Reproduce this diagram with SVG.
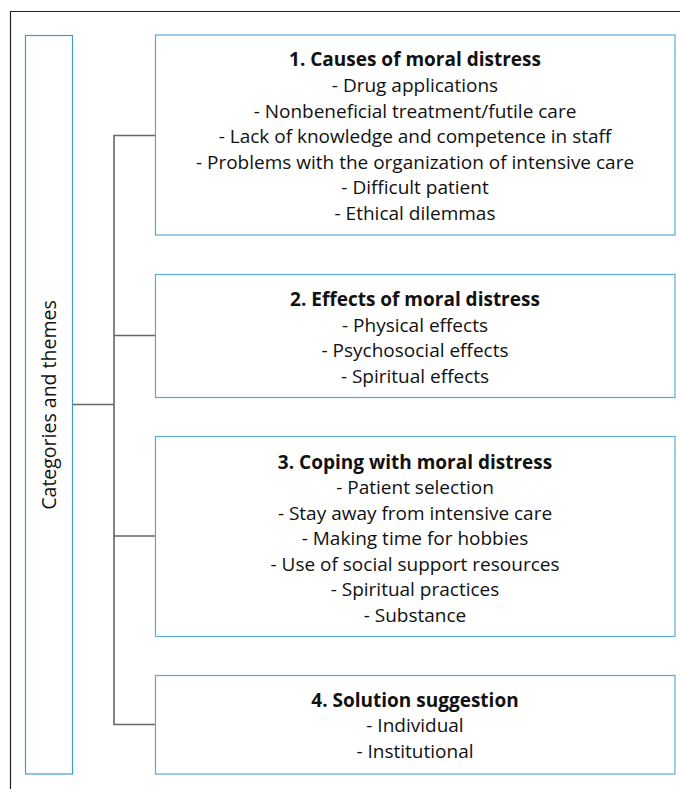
<svg xmlns="http://www.w3.org/2000/svg" width="680" height="789" viewBox="0 0 680 789">
<style>
.box{fill:#fff;stroke:#5aaad6;stroke-width:1.2}
.lbl{fill:#fff;stroke:#3f9bcf;stroke-width:1.2}
.t{font-family:"Open Sans","Liberation Sans",sans-serif;font-size:19px;fill:#111;text-anchor:middle}
.b{font-weight:bold}
.c{fill:none;stroke:#666;stroke-width:1.6}
</style>
<rect width="680" height="789" fill="#fff"/>
<path d="M10.5,789 V11.5 H680" fill="none" stroke="#222" stroke-width="1.2"/>
<g id="root">
<rect class="lbl" x="25.5" y="35.5" width="47" height="738.5"/>
<text class="t" style="font-size:19.5px" transform="translate(55.5,405) rotate(-90)">Categories and themes</text>
</g>
<g id="connectors">
<path class="c" d="M72.5,404.5 H114"/>
<path class="c" d="M155,135.5 H114 V724.5 H155"/>
<path class="c" d="M114,335.5 H155"/>
<path class="c" d="M114,536 H155"/>
</g>
<g id="n1">
<rect class="box" x="155.5" y="35" width="519.5" height="200"/>
<text class="t b" x="415" y="66">1. Causes of moral distress</text>
<text class="t" x="415" y="92">- Drug applications</text>
<text class="t" x="415" y="118">- Nonbeneficial treatment/futile care</text>
<text class="t" x="415" y="143">- Lack of knowledge and competence in staff</text>
<text class="t" x="415" y="169">- Problems with the organization of intensive care</text>
<text class="t" x="415" y="194">- Difficult patient</text>
<text class="t" x="415" y="220">- Ethical dilemmas</text>
</g>
<g id="n2">
<rect class="box" x="155.5" y="274.5" width="519.5" height="123"/>
<text class="t b" x="415" y="306">2. Effects of moral distress</text>
<text class="t" x="415" y="332">- Physical effects</text>
<text class="t" x="415" y="357">- Psychosocial effects</text>
<text class="t" x="415" y="383">- Spiritual effects</text>
</g>
<g id="n3">
<rect class="box" x="155.5" y="436.5" width="519.5" height="200"/>
<text class="t b" x="415" y="469">3. Coping with moral distress</text>
<text class="t" x="415" y="494">- Patient selection</text>
<text class="t" x="415" y="520">- Stay away from intensive care</text>
<text class="t" x="415" y="545">- Making time for hobbies</text>
<text class="t" x="415" y="571">- Use of social support resources</text>
<text class="t" x="415" y="596">- Spiritual practices</text>
<text class="t" x="415" y="622">- Substance</text>
</g>
<g id="n4">
<rect class="box" x="155.5" y="675.5" width="519.5" height="98.5"/>
<text class="t b" x="415" y="707">4. Solution suggestion</text>
<text class="t" x="415" y="732">- Individual</text>
<text class="t" x="415" y="758">- Institutional</text>
</g>
</svg>
